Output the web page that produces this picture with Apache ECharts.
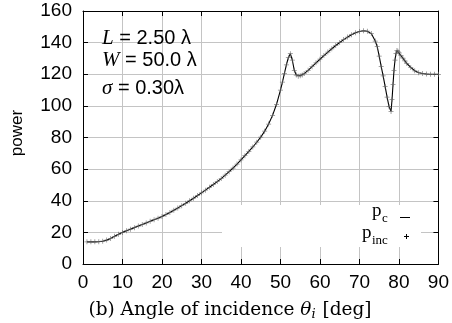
<!DOCTYPE html>
<html><head><meta charset="utf-8">
<script src="https://cdn.jsdelivr.net/npm/echarts@6/dist/echarts.min.js"></script>
<style>html,body{margin:0;padding:0;background:#fff}#c{width:452px;height:323px}</style>
</head><body><div id="c"></div>
<script>
// ---- data ----
const angles = [1,2,3,4,5,6,7,8,9,10,11,12,13,14,15,16,17,18,19,20,21,22,23,24,25,26,27,28,29,30,
  31,32,33,34,35,36,37,38,39,40,41,42,43,44,45,46,47,48,49,50,50.5,51,51.5,52,52.5,53,53.5,54,54.5,55,55.5,56,
  57,58,59,60,61,62,63,64,65,66,67,68,69,70,71,72,73,74,74.5,75,75.5,76,76.5,77,77.5,78,78.25,78.5,78.75,
  79,79.25,79.5,79.75,80,80.5,81,81.5,82,83,84,85,86,87,88,89,90];
const pC = [14.0,14.0,14.0,14.1,14.4,15.1,16.2,17.5,18.8,20.0,21.0,22.0,23.0,24.0,25.0,26.0,27.0,28.0,29.0,30.0,
  31.3,32.6,34.0,35.4,36.9,38.4,40.0,41.6,43.3,45.0,46.7,48.5,50.3,52.1,54.0,56.2,58.4,60.7,63.2,65.8,
  68.5,71.2,74.0,77.0,80.2,84.0,88.5,94.0,101.0,110.0,115.0,120.5,126.0,130.5,133.0,129.0,122.5,119.5,118.8,119.0,119.6,120.4,
  122.5,124.8,127.2,129.5,131.8,134.0,136.1,138.2,140.1,141.9,143.5,145.0,146.2,147.0,147.5,147.2,145.7,141.0,137.5,131.5,125.0,119.0,112.3,105.5,99.5,96.5,104.0,113.5,122.5,
  129.0,133.0,135.0,134.5,133.8,131.8,130.2,128.5,126.8,124.3,122.2,121.0,120.5,120.2,120.0,120.0,120.0];
const pInc = [14.0,14.0,14.0,14.1,14.4,15.1,16.2,17.5,18.8,20.0,21.0,22.0,23.0,24.0,25.0,26.0,27.0,28.0,29.0,30.0,
  31.3,32.6,34.0,35.4,36.9,38.4,40.0,41.6,43.3,45.0,46.7,48.5,50.3,52.1,54.0,56.2,58.4,60.7,63.2,65.8,
  68.5,71.2,74.0,77.0,80.2,84.0,88.5,94.0,101.0,110.0,115.0,120.5,126.0,130.5,133.0,129.0,122.5,119.5,118.8,119.0,119.6,120.4,
  122.5,124.8,127.2,129.5,131.8,134.0,136.1,138.2,140.1,141.9,143.5,145.0,146.2,147.0,147.5,147.2,145.7,141.0,137.5,131.5,125.0,119.0,112.3,105.5,99.5,96.5,104.0,113.5,122.5,
  129.0,133.0,135.0,134.5,133.8,131.8,130.2,128.5,126.8,124.3,122.2,121.0,120.5,120.2,120.0,120.0,120.0];
const xTicks = [0,10,20,30,40,50,60,70,80,90];
const yTicks = [0,20,40,60,80,100,120,140,160];
const seriesNames = ['p_c', 'p_inc'];
const xTitle = ['(b) Angle of incidence ', 'θ', 'i', ' [deg]'];
const yTitle = 'power';
const notes = [['L', ' = 2.50 λ'], ['W', ' = 50.0 λ'], ['σ', ' = 0.30λ']];

// ---- chart ----
const SANS = 'Liberation Sans';
const SERIF = 'DejaVu Serif';
const TIMES = 'Liberation Serif';
const chart = echarts.init(document.getElementById('c'), null, {renderer: 'canvas'});
const xStep = xTicks[1] - xTicks[0], yStep = yTicks[1] - yTicks[0];
const plusPath = 'path://M-0.45,-3H0.45V-0.45H3V0.45H0.45V3H-0.45V0.45H-3V-0.45H-0.45Z';

function axisCommon(min, max, interval) {
  return {
    type: 'value', min: min, max: max, interval: interval,
    axisLine: {show: true, onZero: false, lineStyle: {color: '#000', width: 1}},
    axisTick: {show: true, inside: true, length: 5, lineStyle: {color: '#000', width: 1}},
    splitLine: {show: false}
  };
}
const xMin = xTicks[0], xMax = xTicks[xTicks.length - 1];
const yMin = yTicks[0], yMax = yTicks[yTicks.length - 1];

// x-title pieces laid out with measured widths
const mctx = document.createElement('canvas').getContext('2d');
const tParts = [
  {t: xTitle[0], style: 'normal', size: 18.5, dy: 0},
  {t: xTitle[1], style: 'italic', size: 18.5, dy: 0},
  {t: xTitle[2], style: 'italic', size: 13, dy: 5},
  {t: xTitle[3], style: 'normal', size: 18.5, dy: 0}
];
tParts.forEach(p => { mctx.font = p.style + ' ' + p.size + 'px "' + SERIF + '"'; p.w = mctx.measureText(p.t).width; });
tParts[2].w += 1;
const tTotal = tParts.reduce((s, p) => s + p.w, 0);
let tx = 230 - tTotal / 2;
const titleEls = tParts.map(p => {
  const el = {type: 'text', z: 5, x: tx, y: 310 + p.dy,
    style: {text: p.t, fontFamily: SERIF, fontStyle: p.style, fontSize: p.size, fill: '#000', align: 'left', verticalAlign: 'middle'}};
  tx += p.w;
  return el;
});

const option = {
  animation: false,
  backgroundColor: '#fff',
  grid: {left: 83, right: 11, top: 11, bottom: 59, containLabel: false},
  xAxis: [
    Object.assign(axisCommon(xMin, xMax, xStep), {
      position: 'bottom',
      axisLabel: {color: '#000', fontFamily: SANS, fontSize: 19, margin: 9},
      splitLine: {show: true, lineStyle: {color: '#c4c4c4', width: 1}}
    }),
    Object.assign(axisCommon(xMin, xMax, xStep), {position: 'top', axisLabel: {show: false}})
  ],
  yAxis: [
    Object.assign(axisCommon(yMin, yMax, yStep), {
      position: 'left',
      axisLabel: {color: '#000', fontFamily: SANS, fontSize: 19, margin: 11},
      splitLine: {show: true, lineStyle: {color: '#c4c4c4', width: 1}}
    }),
    Object.assign(axisCommon(yMin, yMax, yStep), {position: 'right', axisLabel: {show: false}})
  ],
  series: [
    {
      name: seriesNames[0], type: 'line', xAxisIndex: 0, yAxisIndex: 0,
      data: angles.map((a, i) => [a, pC[i]]),
      showSymbol: false, symbol: 'none', smooth: false,
      lineStyle: {color: '#000', width: 1.1}, z: 3
    },
    {
      name: seriesNames[1], type: 'scatter', xAxisIndex: 0, yAxisIndex: 0,
      data: angles.map((a, i) => [a, pInc[i]]),
      symbol: plusPath, symbolSize: 5,
      itemStyle: {color: '#666'}, z: 4
    }
  ],
  graphic: [
    // annotation
    ...notes.map((n, k) => ({
      type: 'text', left: 102, top: [28, 50, 78][k], z: 5,
      style: {
        text: '{i|' + n[0] + '}{n|' + n[1] + '}',
        rich: {
          i: {fontFamily: TIMES, fontStyle: 'italic', fontSize: 21, fill: '#000'},
          n: {fontFamily: SANS, fontSize: 20, fill: '#000'}
        }
      }
    })),
    // legend box
    {type: 'rect', z: 1, shape: {x: 222, y: 205, width: 199, height: 42}, style: {fill: '#fff'}},
    {type: 'text', z: 5, x: 372, y: 221, style: {text: 'p', fontFamily: TIMES, fontSize: 19, fill: '#000', verticalAlign: 'bottom'}},
    {type: 'text', z: 5, x: 382, y: 225, style: {text: 'c', fontFamily: TIMES, fontSize: 13, fill: '#000', verticalAlign: 'bottom'}},
    {type: 'line', z: 5, shape: {x1: 400, y1: 217.5, x2: 410, y2: 217.5}, style: {stroke: '#000', lineWidth: 1}},
    {type: 'text', z: 5, x: 362, y: 243, style: {text: 'p', fontFamily: TIMES, fontSize: 19, fill: '#000', verticalAlign: 'bottom'}},
    {type: 'text', z: 5, x: 372, y: 247, style: {text: 'inc', fontFamily: TIMES, fontSize: 13, fill: '#000', verticalAlign: 'bottom'}},
    {type: 'line', z: 5, shape: {x1: 404, y1: 236.5, x2: 409, y2: 236.5}, style: {stroke: '#000', lineWidth: 1}},
    {type: 'line', z: 5, shape: {x1: 406.5, y1: 234, x2: 406.5, y2: 239}, style: {stroke: '#000', lineWidth: 1}},
    // y title
    {type: 'text', z: 5, x: 17, y: 133, rotation: Math.PI / 2,
     style: {text: yTitle, fontFamily: SANS, fontSize: 17, fill: '#000', align: 'center', verticalAlign: 'middle'}},
    // x title
    ...titleEls
  ]
};
chart.setOption(option);
</script></body></html>
